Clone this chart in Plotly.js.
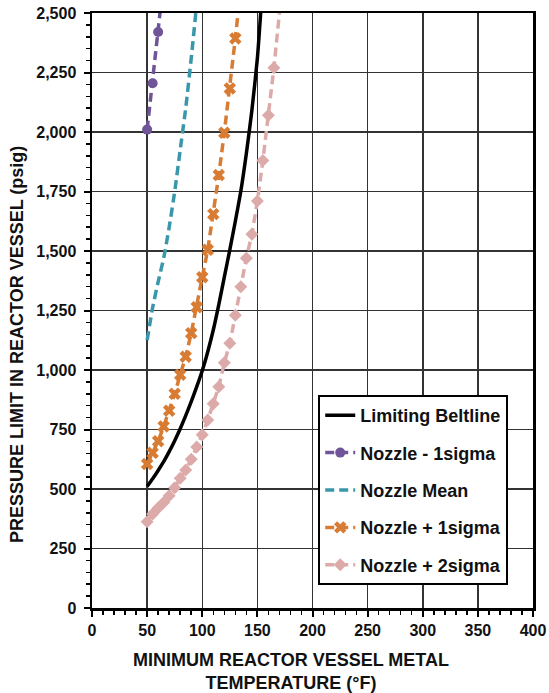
<!DOCTYPE html>
<html>
<head>
<meta charset="utf-8">
<script src="https://cdn.plot.ly/plotly-3.0.1.min.js"></script>
<style>html,body{margin:0;padding:0;background:#fff;}#chart{width:549px;height:693px;}</style>
</head>
<body>
<div id="chart"></div>
<script>
// Limiting Beltline
const beltT = [50,55,60,65,70,75,80,85,90,95,100,105,110,115,120,125,130,135,140,145,150,153];
const beltP = [511,543,578,615,657,703,753,808,867,930,997,1077,1168,1275,1390,1505,1625,1752,1910,2090,2310,2500];
// Nozzle - 1sigma
const nm1T = [50,55,60,65];
const nm1P = [2010,2205,2420,2640];
// Nozzle Mean
const meanT = [50,55,60,65,70,75,80,85,90,95];
const meanP = [1125,1262,1370,1470,1600,1750,1925,2100,2310,2540];
// Nozzle + 1sigma
const np1T = [50,55,60,65,70,75,80,85,90,95,100,105,110,115,120,125,130,135];
const np1P = [605,652,701,763,829,900,980,1056,1155,1264,1390,1505,1655,1819,1997,2183,2393,2610];
// Nozzle + 2sigma
const np2T = [50,55,60,65,70,75,80,85,90,95,100,105,110,115,120,125,130,135,140,145,150,155,160,165,175];
const np2P = [362,395,420,443,472,505,545,580,625,676,728,790,858,930,1030,1112,1230,1350,1470,1570,1710,1880,2070,2270,2730];

const names = ['Limiting Beltline','Nozzle - 1sigma','Nozzle Mean','Nozzle + 1sigma','Nozzle + 2sigma'];
const FONT = 'Liberation Sans, Arial, sans-serif';
const TXT = '#111111';
const dashPat = '9px,5px';

const traces = [
  {x: beltT, y: beltP, name: names[0], mode: 'lines', legendgroup: 'g0',
   line: {color: '#000000', width: 3.5, shape: 'spline', smoothing: 0.6}},
  {x: nm1T, y: nm1P, name: names[1], mode: 'lines+markers', legendgroup: 'g1',
   line: {color: '#6F5597', width: 3.5, dash: dashPat},
   marker: {symbol: 'circle', size: 10, color: '#6F5597'}},
  {x: meanT, y: meanP, name: names[2], mode: 'lines', legendgroup: 'g2',
   line: {color: '#3A97AB', width: 3.5, dash: dashPat, shape: 'spline', smoothing: 0.6}},
  {x: np1T, y: np1P, name: names[3], mode: 'lines+markers', legendgroup: 'g3',
   line: {color: '#D87B33', width: 3.5, dash: dashPat},
   marker: {symbol: 'x', size: 11, color: '#D87B33', line: {width: 0}}},
  {x: np2T, y: np2P, name: names[4], mode: 'lines+markers', legendgroup: 'g4',
   line: {color: '#DDAAAA', width: 3.5, dash: dashPat},
   marker: {symbol: 'diamond', size: 10, color: '#DDAAAA', line: {width: 0}}}
];

const axisCommon = {
  showline: true, linecolor: '#000', linewidth: 2.5, mirror: true,
  showgrid: true, gridcolor: '#333', gridwidth: 1.5, zeroline: false,
  ticks: 'outside', ticklen: 6, tickwidth: 2, tickcolor: '#000',
  tickfont: {family: FONT, size: 16, color: TXT, weight: 'bold'},
  fixedrange: true
};

const layout = {
  width: 549, height: 693,
  margin: {l: 92, r: 16, t: 13, b: 85, pad: 0},
  paper_bgcolor: '#fff', plot_bgcolor: '#fff',
  showlegend: true,
  xaxis: Object.assign({}, axisCommon, {
    range: [0, 400], dtick: 50, tick0: 0, tickformat: 'd',
    minor: {dtick: 10, ticks: 'outside', ticklen: 4, tickwidth: 1.5, tickcolor: '#000', showgrid: false}
  }),
  yaxis: Object.assign({}, axisCommon, {
    range: [0, 2500], dtick: 250, tick0: 0, tickformat: ',d', ticklabelstandoff: 4,
    minor: {dtick: 50, ticks: 'outside', ticklen: 4, tickwidth: 1.5, tickcolor: '#000', showgrid: false}
  }),
  legend: {
    x: 0.513, y: 0.358, xanchor: 'left', yanchor: 'top',
    bgcolor: '#fff', bordercolor: '#000', borderwidth: 2,
    font: {family: FONT, size: 18, color: TXT, weight: 'bold'},
    tracegroupgap: 11, itemclick: false, itemdoubleclick: false
  },
  annotations: [
    {text: 'MINIMUM REACTOR VESSEL METAL<br>TEMPERATURE (°F)', xref: 'paper', yref: 'paper',
     x: 0.451, y: -0.1067, xanchor: 'center', yanchor: 'middle', showarrow: false,
     font: {family: FONT, size: 18, color: TXT, weight: 'bold'}},
    {text: 'PRESSURE LIMIT IN REACTOR VESSEL (psig)', xref: 'paper', yref: 'paper',
     x: -0.170, y: 0.442, xanchor: 'center', yanchor: 'middle', textangle: -90, showarrow: false,
     font: {family: FONT, size: 18, color: TXT, weight: 'bold'}}
  ]
};

Plotly.newPlot('chart', traces, layout, {displayModeBar: false, staticPlot: true});
</script>
</body>
</html>
